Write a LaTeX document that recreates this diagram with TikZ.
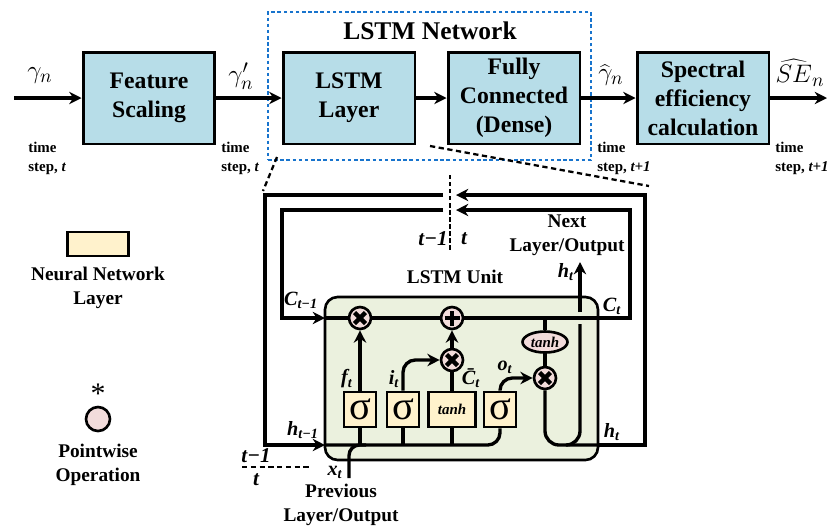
\documentclass[tikz,border=0pt]{standalone}
\usepackage{fontspec}
\setmainfont{Liberation Serif}
\usetikzlibrary{arrows.meta,shapes.geometric}

\definecolor{blockblue}{HTML}{B7DDE8}
\definecolor{netblue}{HTML}{1874CD}
\definecolor{gatefill}{HTML}{FFF2CC}
\definecolor{opfill}{HTML}{F2DCDB}
\definecolor{unitfill}{HTML}{EBF1DE}

\tikzset{
    block/.style={draw, line width=1.7pt, fill=blockblue, minimum width=2.64cm,
                  minimum height=1.84cm, align=center, inner sep=2pt,
                  font=\fontsize{13.5}{16.5}\selectfont\bfseries},
    flow/.style={-{Stealth[length=7pt,width=7pt]}, line width=1.9pt},
    wire/.style={line width=1.9pt},
    zoomline/.style={line width=1.3pt, dash pattern=on 3pt off 2pt},
    netframe/.style={draw=netblue, line width=1.4pt, dash pattern=on 2pt off 1.5pt,
                     minimum width=6.46cm, minimum height=2.96cm},
    tstep/.style={anchor=west, align=left, inner sep=0pt,
                  font=\fontsize{8.5}{10.8}\selectfont\bfseries},
    mathlab/.style={inner sep=1pt, font=\fontsize{15}{15}\selectfont},
    plain/.style={align=center, font=\fontsize{11}{13.6}\selectfont\bfseries},
    vlab/.style={inner sep=0pt, font=\fontsize{11.5}{13}\selectfont\bfseries\itshape},
    unitbox/.style={draw, line width=1.5pt, fill=unitfill, rounded corners=0.25cm,
                    minimum width=5.46cm, minimum height=3.26cm},
    gatebox/.style={draw, line width=1.5pt, fill=gatefill, inner sep=0pt,
                    minimum width=0.64cm, minimum height=0.7cm},
    sigmagate/.style={gatebox, font=\fontsize{23}{23}\selectfont},
    tanhgate/.style={gatebox, minimum width=0.94cm,
                     font=\fontsize{8.5}{9}\selectfont\bfseries\itshape},
    opcircle/.style={circle, draw, line width=1.5pt, fill=opfill,
                     minimum size=0.44cm, inner sep=0pt},
    mulop/.style={opcircle, path picture={
        \draw[line width=2.5pt] (path picture bounding box.center) +(-1.1mm,-1.1mm) -- +(1.1mm,1.1mm);
        \draw[line width=2.5pt] (path picture bounding box.center) +(-1.1mm,1.1mm) -- +(1.1mm,-1.1mm);}},
    addop/.style={opcircle, path picture={
        \draw[line width=2.5pt] (path picture bounding box.center) +(-1.5mm,0) -- +(1.5mm,0);
        \draw[line width=2.5pt] (path picture bounding box.center) +(0,-1.5mm) -- +(0,1.5mm);}},
    tanhop/.style={ellipse, draw, line width=1.5pt, fill=opfill, inner sep=0pt,
                   minimum width=0.9cm, minimum height=0.42cm,
                   font=\fontsize{8.5}{9}\selectfont\bfseries\itshape},
}
\newcommand{\vsub}[2]{#1\textsubscript{#2}}

\begin{document}
\begin{tikzpicture}[x=0.02cm, y=-0.02cm]
    \useasboundingbox (0,0) rectangle (827,529);

    % top row
    \node[netframe] (netbox) at (429.5,86) {};
    \node[font=\fontsize{14.5}{16}\selectfont\bfseries] (nettitle) at (430,31) {LSTM Network};

    \node[block] (featscale) at (149,98) {Feature\\Scaling};
    \node[block] (lstmlayer) at (349,98) {LSTM\\Layer};
    \node[block] (dense) at (514,98) {Fully\\Connected\\(Dense)};
    \node[block] (specalc) at (703,98) {Spectral\\efficiency\\calculation};
    \coordinate (gin) at (14,98);
    \coordinate (seout) at (827,98);

    \draw[flow] (gin) -- (featscale);
    \draw[flow] (featscale) -- (lstmlayer);
    \draw[flow] (lstmlayer) -- (dense);
    \draw[flow] (dense) -- (specalc);
    \draw[flow] (specalc) -- (seout);

    \node[mathlab] (lgam) at (40,76) {$\gamma_n$};
    \node[mathlab] (lgamp) at (241,76) {$\gamma_n'$};
    \node[mathlab] (lgamhat) at (611,75) {$\widehat{\gamma}_n$};
    \node[mathlab] (lse) at (800,73) {$\widehat{SE}_n$};

    \node[tstep] (ts1) at (28,158) {time\\step, \textit{t}};
    \node[tstep] (ts2) at (221,158) {time\\step, \textit{t}};
    \node[tstep] (ts3) at (597,158) {time\\step, \textit{t+1}};
    \node[tstep] (ts4) at (775,158) {time\\step, \textit{t+1}};

    % zoom into the LSTM layer
    \coordinate (zl1) at (277,157);
    \coordinate (zl2) at (263,191);
    \coordinate (zr1) at (430,146);
    \coordinate (zr2) at (649,186);
    \draw[zoomline] (zl1) -- (zl2);
    \draw[zoomline] (zr1) -- (zr2);
    \coordinate (tsplit1) at (450,175);
    \coordinate (tsplit2) at (450,250);
    \draw[line width=1.3pt, dash pattern=on 2.5pt off 1.5pt] (tsplit1) -- (tsplit2);
    \node[vlab, font=\fontsize{12}{13}\selectfont\bfseries\itshape] (tprev) at (433,239) {t−1};
    \node[vlab, font=\fontsize{12}{13}\selectfont\bfseries\itshape] (tnow) at (464,239) {t};

    % LSTM unit
    \node[unitbox] (unit) at (461.5,378.5) {};
    \node[plain] (unitname) at (455,277) {LSTM Unit};
    \node[plain] (nextout) at (567,235) {Next\\Layer/Output};

    \node[sigmagate] (sigf) at (360,409.5) {σ};
    \node[sigmagate] (sigi) at (403,409.5) {σ};
    \node[tanhgate] (tanhg) at (452,409.5) {tanh};
    \node[sigmagate] (sigo) at (500,409.5) {σ};
    \node[mulop] (mulf) at (360,318) {};
    \node[addop] (addc) at (452,318) {};
    \node[mulop] (muli) at (452,360) {};
    \node[mulop] (mulo) at (545,378) {};
    \node[tanhop] (tanhc) at (545,342) {tanh};

    \coordinate (hin) at (325,445);
    \coordinate (cin) at (325,318);
    \coordinate (hgapL) at (443,195);
    \coordinate (hgapR) at (456,195);
    \coordinate (cgapL) at (443,210);
    \coordinate (cgapR) at (456,210);
    \coordinate (hcornerL) at (265,195);
    \coordinate (hcornerR) at (645,195);
    \coordinate (ccornerL) at (282,210);
    \coordinate (ccornerR) at (630,210);
    \coordinate (hjoin) at (598,445);
    \coordinate (hvlow) at (580,324);
    \coordinate (hvjoin) at (566,445);
    \coordinate (hvup) at (580,312);
    \coordinate (hvtop) at (580,262);
    \coordinate (xin) at (349,478);
    \coordinate (xjoin) at (366,445);

    % hidden state loop
    \draw[flow] (hgapL) -- (hcornerL) |- (hin);
    \draw[wire, rounded corners=7pt] (hin) -| (sigo.south);
    \draw[wire] (sigf.south) -- (sigf.south |- hin);
    \draw[wire] (sigi.south) -- (sigi.south |- hin);
    \draw[wire] (tanhg.south) -- (tanhg.south |- hin);
    \draw[wire, rounded corners=6pt] (xin) |- (xjoin);
    \draw[wire, rounded corners=8pt] (mulo.south) |- (hjoin);
    \draw[flow] (hjoin) -- (hcornerR |- hin) -- (hcornerR) -- (hgapR);
    \draw[wire, rounded corners=8pt] (hvlow) |- (hvjoin);
    \draw[flow] (hvup) -- (hvtop);

    % cell state loop
    \draw[flow] (cgapL) -- (ccornerL) |- (cin);
    \draw[wire] (cin) -- (mulf);
    \draw[wire] (mulf) -- (addc);
    \draw[flow] (addc) -- (ccornerR |- addc) -- (ccornerR) -- (cgapR);

    % gates
    \draw[flow] (sigf) -- (mulf);
    \draw[flow, rounded corners=7pt] (sigi.north) |- (muli);
    \draw[wire] (tanhg) -- (muli);
    \draw[flow] (muli) -- (addc);
    \draw[flow, rounded corners=7pt] (sigo.north) |- (mulo);
    \draw[wire] (tanhc) -- (tanhc |- addc);
    \draw[wire] (tanhc) -- (mulo);

    % labels
    \node[vlab] (lf) at (347,379) {\vsub{f}{t}};
    \node[vlab] (li) at (394,379) {\vsub{i}{t}};
    \node[vlab] (lcbar) at (471,378) {\vsub{\={C}}{t}};
    \node[vlab] (lo) at (505,367) {\vsub{o}{t}};
    \node[vlab] (lcprev) at (301,300) {\vsub{C}{t−1}};
    \node[vlab] (lhprev) at (303,430) {\vsub{h}{t−1}};
    \node[vlab] (lcnow) at (612,306) {\vsub{C}{t}};
    \node[vlab] (lhnow) at (612,432) {\vsub{h}{t}};
    \node[vlab] (lhup) at (566,272) {\vsub{h}{t}};
    \node[vlab] (lx) at (335,472) {\vsub{x}{t}};
    \node[plain] (prevout) at (341,505) {Previous\\Layer/Output};

    \coordinate (tl1) at (242,467);
    \coordinate (tl2) at (310,467);
    \draw[line width=1.3pt, dash pattern=on 3pt off 2pt] (tl1) -- (tl2);
    \node[vlab, font=\fontsize{12}{13}\selectfont\bfseries\itshape] (tbprev) at (256,456) {t−1};
    \node[vlab, font=\fontsize{12}{13}\selectfont\bfseries\itshape] (tbnow) at (256,480) {t};

    % legend
    \node[gatebox, minimum width=1.22cm, minimum height=0.48cm] (leglayer) at (98,244) {};
    \node[plain] (leglayertext) at (98,288) {Neural Network\\Layer};
    \node[font=\fontsize{17}{17}\selectfont] (legstar) at (98,394) {*};
    \node[opcircle, minimum size=0.48cm] (legop) at (98,419) {};
    \node[plain] (legoptext) at (98,465) {Pointwise\\Operation};
\end{tikzpicture}
\end{document}
